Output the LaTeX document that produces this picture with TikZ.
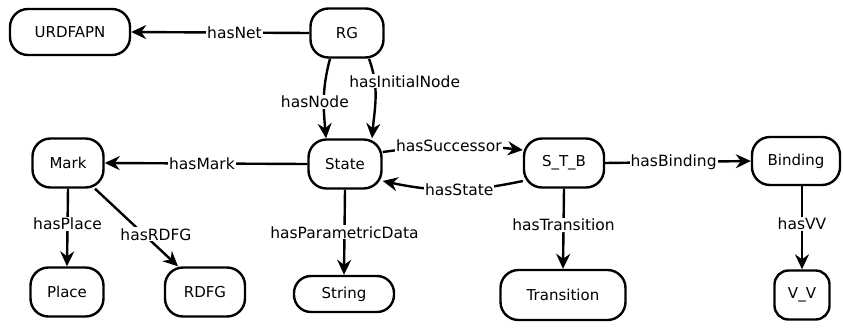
\documentclass[tikz,border=0pt]{standalone}
\usepackage{fontspec}
\setmainfont{DejaVu Sans}
\usetikzlibrary{arrows.meta}
\begin{document}
\begin{tikzpicture}[x=1pt,y=-1pt,
  box/.style={draw,line width=2.4pt,rounded corners=18pt,inner sep=0pt,font=\fontsize{15pt}{18pt}\selectfont},
  lbl/.style={fill=white,inner sep=1pt,font=\fontsize{15.5pt}{18pt}\selectfont},
  rel/.style={line width=2.4pt,-{Stealth[length=15pt,width=14pt,inset=5pt]}}]
\useasboundingbox (0,0) rectangle (843,327);
\node[box,minimum width=120pt,minimum height=46pt] (urd) at (70,32) {URDFAPN};
\node[box,minimum width=73pt,minimum height=49pt] (rg) at (347,33) {RG};
\node[box,minimum width=73pt,minimum height=49pt] (st) at (345,164) {State};
\node[box,minimum width=71pt,minimum height=49pt] (mark) at (68,163) {Mark};
\node[box,minimum width=80pt,minimum height=49pt] (stb) at (564,163) {S\_T\_B};
\node[box,minimum width=88pt,minimum height=48pt] (bind) at (796,161) {Binding};
\node[box,minimum width=73pt,minimum height=49pt] (place) at (67,292) {Place};
\node[box,minimum width=80pt,minimum height=49pt] (rdfg) at (205,292) {RDFG};
\node[box,minimum width=100pt,minimum height=36pt,rounded corners=17pt] (str) at (344,294) {String};
\node[box,minimum width=125pt,minimum height=50pt] (tr) at (563,295) {Transition};
\node[box,minimum width=55pt,minimum height=49pt,rounded corners=14pt] (vv) at (802,295) {V\_V};

\draw[rel] (rg.west) -- node[lbl,pos=0.42] {hasNet} (urd.east);
\draw[rel] ([xshift=-17pt]rg.south) to[out=-105,in=95] node[lbl,pos=0.55,xshift=-9pt] {hasNode} ([xshift=-19pt]st.north);
\draw[rel] ([xshift=22pt]rg.south) to[out=-70,in=85] node[lbl,pos=0.28,xshift=30pt] {hasInitialNode} ([xshift=27pt]st.north);
\draw[rel] (st.west) -- node[lbl,pos=0.52] {hasMark} (mark.east);
\draw[rel] ([yshift=12pt]st.east) to[bend left=7] node[lbl,pos=0.47] {hasSuccessor} ([yshift=13pt]stb.west);
\draw[rel] ([yshift=-18pt]stb.west) to[bend left=12] node[lbl,pos=0.45] {hasState} ([yshift=-17pt]st.east);
\draw[rel] (st.south) -- node[lbl,pos=0.5] {hasParametricData} (str.north);
\draw[rel] (mark.south) -- node[lbl,pos=0.45] {hasPlace} (place.north);
\draw[rel] ([xshift=27pt]mark.south) -- node[lbl,pos=0.59,xshift=12pt] {hasRDFG} ([xshift=-27pt]rdfg.north);
\draw[rel] (stb.south) -- node[lbl,pos=0.45] {hasTransition} (tr.north);
\draw[rel] (stb.east) -- node[lbl,pos=0.47] {hasBinding} (bind.west);
\draw[rel] ([xshift=6pt]bind.south) -- node[lbl,pos=0.45] {hasVV} (vv.north);
\end{tikzpicture}
\end{document}
